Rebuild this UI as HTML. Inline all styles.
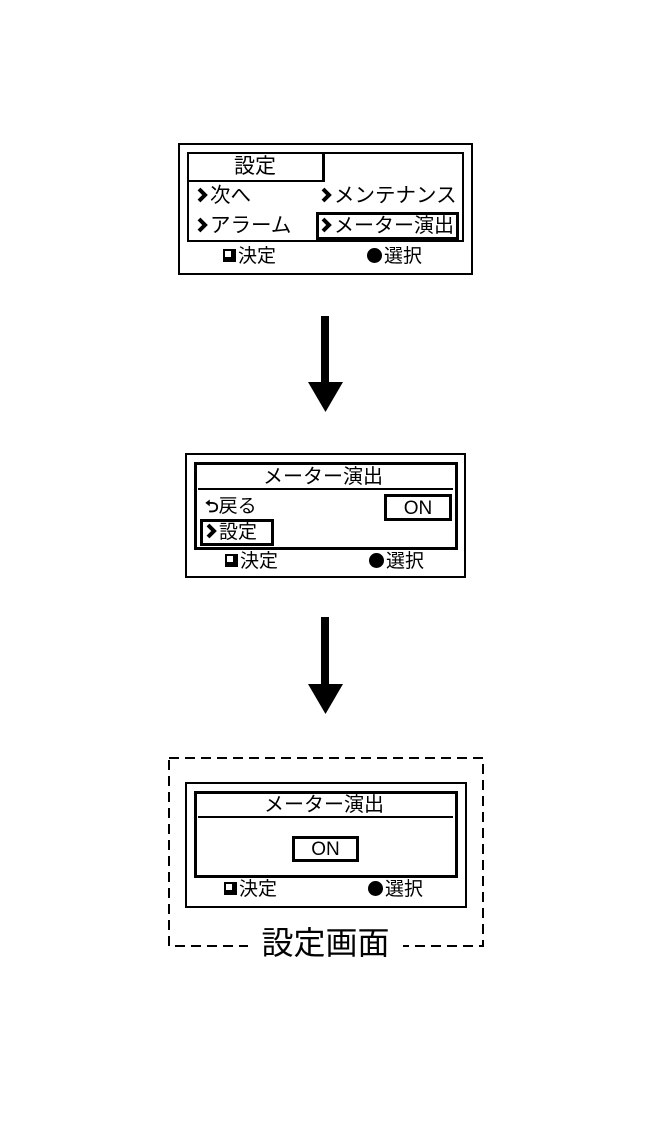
<!DOCTYPE html>
<html><head><meta charset="utf-8"><style>
body{margin:0;width:650px;height:1122px;background:#fff;position:relative;overflow:hidden;font-family:"Liberation Sans","Noto Sans CJK JP",sans-serif;color:#000}
.a{position:absolute;box-sizing:border-box}
.t{position:absolute;white-space:nowrap;line-height:1}
.b{border:2px solid #000}
.ch{display:inline-block;width:12px;height:16px;vertical-align:-1px;margin-right:2px}
.sq{display:inline-block;width:13px;height:13px;background:#000;position:relative;vertical-align:0;margin-right:2px}
.sq:after{content:"";position:absolute;left:2px;top:2px;width:6px;height:6px;background:#fff}
.ci{display:inline-block;width:15px;height:15px;border-radius:50%;background:#000;vertical-align:-1px;margin-right:2px}
</style></head><body>
<svg width="0" height="0" style="position:absolute"><defs><symbol id="c" viewBox="0 0 12 16"><polyline points="3,2 9,8 3,14" fill="none" stroke="#000" stroke-width="4"/></symbol></defs></svg>
<!-- Screen 1 -->
<div class="a b" style="left:178px;top:143px;width:295px;height:132px"></div>
<div class="a b" style="left:187px;top:152px;width:277px;height:90px"></div>
<div class="a" style="left:187px;top:180px;width:138px;height:2px;background:#000"></div>
<div class="a" style="left:322px;top:152px;width:3px;height:30px;background:#000"></div>
<div class="t" style="left:234px;top:156px;font-size:21px">設定</div>
<div class="t" style="left:196px;top:186px;font-size:20.5px"><svg class="ch"><use href="#c"/></svg>次へ</div>
<div class="t" style="left:320px;top:186px;font-size:20.5px"><svg class="ch"><use href="#c"/></svg>メンテナンス</div>
<div class="t" style="left:196px;top:216px;font-size:20.5px"><svg class="ch"><use href="#c"/></svg>アラーム</div>
<div class="a" style="left:316px;top:212px;width:143px;height:28px;border:3px solid #000"></div>
<div class="t" style="left:320px;top:216px;font-size:20px"><svg class="ch"><use href="#c"/></svg>メーター演出</div>
<div class="t" style="left:223px;top:247px;font-size:19px"><span class="sq"></span>決定</div>
<div class="t" style="left:367px;top:247px;font-size:19px"><span class="ci"></span>選択</div>
<!-- Arrow 1 -->
<div class="a" style="left:321px;top:316px;width:8px;height:68px;background:#000"></div>
<svg class="a" style="left:308px;top:382px" width="36" height="31"><polygon points="0,0 35,0 17.5,30" fill="#000"/></svg>
<!-- Screen 2 -->
<div class="a b" style="left:185px;top:453px;width:281px;height:125px"></div>
<div class="a" style="left:194px;top:462px;width:264px;height:88px;border:3px solid #000"></div>
<div class="t" style="left:263px;top:467px;font-size:20px">メーター演出</div>
<div class="a" style="left:198px;top:488px;width:255px;height:2px;background:#000"></div>
<div class="t" style="left:205px;top:497px;font-size:19px"><b style="font-size:17px">⮌</b>戻る</div>
<div class="a" style="left:384px;top:494px;width:68px;height:27px;border:3px solid #000"></div>
<div class="t" style="left:384px;top:499px;width:68px;text-align:center;font-size:19px">ON</div>
<div class="a" style="left:200px;top:519px;width:74px;height:27px;border:3px solid #000"></div>
<div class="t" style="left:205px;top:523px;font-size:19px"><svg class="ch"><use href="#c"/></svg>設定</div>
<div class="t" style="left:225px;top:552px;font-size:19px"><span class="sq"></span>決定</div>
<div class="t" style="left:369px;top:552px;font-size:19px"><span class="ci"></span>選択</div>
<!-- Arrow 2 -->
<div class="a" style="left:321px;top:617px;width:8px;height:69px;background:#000"></div>
<svg class="a" style="left:308px;top:684px" width="36" height="31"><polygon points="0,0 35,0 17.5,30" fill="#000"/></svg>
<!-- Screen 3 -->
<svg class="a" style="left:167px;top:756px" width="318" height="192"><rect x="2" y="2" width="314" height="188" fill="none" stroke="#000" stroke-width="2" stroke-dasharray="10,6"/></svg>
<div class="a b" style="left:185px;top:782px;width:282px;height:126px"></div>
<div class="a" style="left:194px;top:791px;width:264px;height:87px;border:3px solid #000"></div>
<div class="t" style="left:264px;top:795px;font-size:20px">メーター演出</div>
<div class="a" style="left:198px;top:816px;width:255px;height:2px;background:#000"></div>
<div class="a" style="left:292px;top:836px;width:67px;height:26px;border:3px solid #000"></div>
<div class="t" style="left:292px;top:840px;width:67px;text-align:center;font-size:19px">ON</div>
<div class="t" style="left:224px;top:880px;font-size:19px"><span class="sq"></span>決定</div>
<div class="t" style="left:368px;top:880px;font-size:19px"><span class="ci"></span>選択</div>
<div class="t" style="left:248px;top:927px;width:155px;text-align:center;background:#fff;font-size:32px">設定画面</div>
</body></html>
